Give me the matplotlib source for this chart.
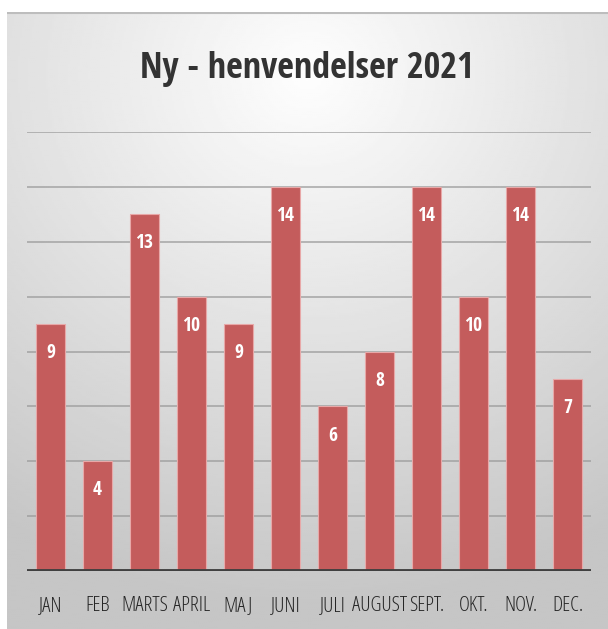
import numpy as np
import matplotlib.pyplot as plt

months = ["JAN", "FEB", "MARTS", "APRIL", "MAJ", "JUNI", "JULI", "AUGUST", "SEPT.", "OKT.", "NOV.", "DEC."]
counts = [9, 4, 13, 10, 9, 14, 6, 8, 14, 10, 14, 7]
y_grid = [2, 4, 6, 8, 10, 12, 14, 16]

fnt = dict(family=["Open Sans", "DejaVu Sans"], stretch="condensed")
fnt_b = dict(family=["Open Sans Condensed", "Open Sans", "DejaVu Sans"], stretch="condensed",
             fontweight="bold")

fig = plt.figure(figsize=(6.08, 6.29), dpi=100)
fig.patch.set_facecolor("white")

# background panel with radial gradient
bg = fig.add_axes([7 / 608, 0, 1 - 7 / 608, 1 - 12 / 629])
bg.set_axis_off()
gx, gy = np.meshgrid(np.linspace(0, 1, 300), np.linspace(0, 1, 300))
r = np.sqrt(((gx - 0.5) * 1.0) ** 2 + ((gy - 0.1) * 1.1) ** 2)
shade = 0.995 - 0.22 * np.clip(r / 0.95, 0, 1)
bg.imshow(shade, cmap="gray", vmin=0, vmax=1, aspect="auto", extent=[0, 1, 1, 0])
bg.set_xlim(0, 1)
bg.set_ylim(1, 0)
bg.plot([0, 1], [0.002, 0.002], color="#bdbdbd", lw=1.5)

ax = fig.add_axes([27 / 608, 1 - 571 / 629, 564 / 608, (571 - 132) / 629])
ax.patch.set_alpha(0)
x = np.arange(len(months))
ax.bar(x, counts, width=0.6, color="#c45c5c", edgecolor="#e8a8a8", linewidth=0.8, zorder=3)
ax.set_xlim(-0.5, len(months) - 0.5)
ax.set_ylim(0, 16)
for g in y_grid:
    ax.axhline(g, color="#9a9a9a", lw=1.2, alpha=0.8, zorder=1)
ax.axhline(0, color="#404040", lw=3.5, zorder=4)

for xi, v in zip(x, counts):
    ax.annotate(str(v), (xi, v), xytext=(0, -21), textcoords="offset points",
                ha="center", va="center", color="white", fontsize=14, zorder=5, **fnt_b)

for s in ax.spines.values():
    s.set_visible(False)
ax.set_yticks([])
ax.set_xticks(x)
ax.set_xticklabels(months, fontsize=15, color="#262626", **fnt)
ax.tick_params(axis="x", length=0, pad=18)

fig.text(307 / 608, 1 - 69 / 629, "Ny - henvendelser 2021", ha="center", va="center",
         fontsize=26, color="#333333", **fnt_b)

fig.savefig("out.png", dpi=100)
